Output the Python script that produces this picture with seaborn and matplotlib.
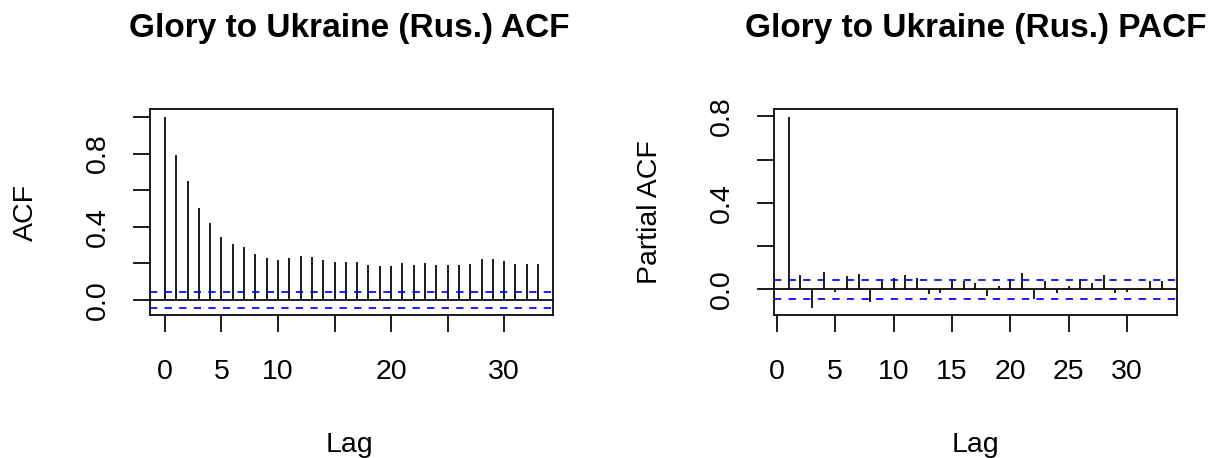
import matplotlib
matplotlib.use("Agg")
import matplotlib.pyplot as plt
import numpy as np
import pandas as pd
import seaborn as sns

# ---- data ----
acf_lags = list(range(0, 34))
acf_vals = [1.000, 0.792, 0.651, 0.505, 0.421, 0.344, 0.307, 0.291, 0.250, 0.230,
            0.219, 0.231, 0.242, 0.237, 0.219, 0.208, 0.206, 0.206, 0.193, 0.186,
            0.186, 0.204, 0.193, 0.203, 0.193, 0.192, 0.192, 0.199, 0.222, 0.222,
            0.215, 0.197, 0.195, 0.199]
pacf_lags = list(range(1, 34))
pacf_vals = [0.797, 0.068, -0.084, 0.082, -0.012, 0.061, 0.071, -0.058, 0.041, 0.053,
             0.065, 0.053, -0.020, -0.015, 0.041, 0.040, 0.032, -0.029, 0.015, 0.049,
             0.075, -0.043, 0.040, -0.015, 0.018, 0.049, 0.032, 0.065, -0.018, -0.011,
             0.009, 0.037, 0.037]
conf_limit = 0.042
titles = ["Glory to Ukraine (Rus.) ACF", "Glory to Ukraine (Rus.) PACF"]
ylabels = ["ACF", "Partial ACF"]
xlabel = "Lag"
x_ticks = [0, 5, 10, 15, 20, 25, 30]
acf_xticklabels = ["0", "5", "10", "", "20", "", "30"]
pacf_xticklabels = ["0", "5", "10", "15", "20", "25", "30"]
acf_yticks = [0.0, 0.2, 0.4, 0.6, 0.8, 1.0]
acf_yticklabels = ["0.0", "", "0.4", "", "0.8", ""]
pacf_yticks = [0.0, 0.2, 0.4, 0.6, 0.8]
pacf_yticklabels = ["0.0", "", "0.4", "", "0.8"]

sns.set_theme(style="white")
plt.rcParams["font.family"] = ["Liberation Sans", "DejaVu Sans"]

W, H = 1217, 458
fig = plt.figure(figsize=(W / 100, H / 100), dpi=100)
LW = 1.25


def px_axes(l, t, r, b):
    return fig.add_axes([l / W, 1 - b / H, (r - l) / W, (b - t) / H])


def expand(lo, hi, f=0.04):
    d = (hi - lo) * f
    return lo - d, hi + d


def draw(ax, lags, vals, xtl, yt, ytl):
    df = pd.DataFrame({"lag": lags, "val": vals})
    ax.vlines(df["lag"], 0, df["val"], color="black", lw=LW)
    ax.axhline(0, color="black", lw=LW)
    for c in (conf_limit, -conf_limit):
        ax.axhline(c, color="blue", lw=LW, ls=(0, (4.2, 4.2)))
    ax.set_xlim(*expand(min(lags), max(lags)))
    ax.set_ylim(*expand(min(-conf_limit, min(vals)), max(conf_limit, max(vals))))
    ax.set_xticks(x_ticks)
    ax.set_xticklabels(xtl)
    ax.set_yticks(yt)
    ax.set_yticklabels(ytl, rotation=90, va="center")
    ax.tick_params(axis="both", direction="out", length=12.3, width=LW,
                   color="black", labelsize=20.5, labelcolor="black",
                   left=True, bottom=True)
    ax.tick_params(axis="x", pad=19)
    ax.tick_params(axis="y", pad=16)
    for s in ax.spines.values():
        s.set_visible(True)
        s.set_color("black")
        s.set_linewidth(LW)
    ax.grid(False)


ax1 = px_axes(150, 109.3, 553, 315.3)
ax2 = px_axes(773.7, 109.3, 1177, 315.3)
draw(ax1, acf_lags, acf_vals, acf_xticklabels, acf_yticks, acf_yticklabels)
draw(ax2, pacf_lags, pacf_vals, pacf_xticklabels, pacf_yticks, pacf_yticklabels)

for cx, yl_x, t, yl in [(349.5, 26, titles[0], ylabels[0]), (975.3, 650, titles[1], ylabels[1])]:
    fig.text(cx / W, 1 - 36.7 / H, t, ha="center", va="baseline",
             fontsize=24, fontweight="bold", color="black")
    fig.text(cx / W, 1 - 451.7 / H, xlabel, ha="center", va="baseline",
             fontsize=20.5, color="black")
    fig.text(yl_x / W, 1 - 212.3 / H, yl, ha="center", va="center",
             rotation=90, fontsize=20.5, color="black")

fig.savefig("out.png", dpi=100)
